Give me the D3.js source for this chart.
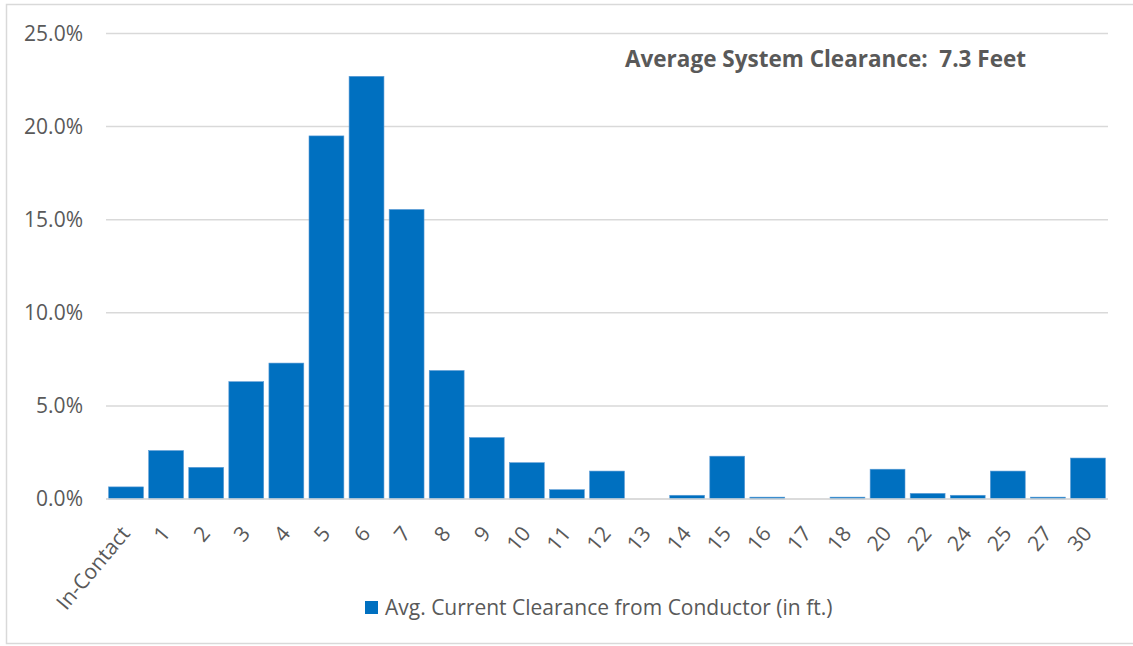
<!DOCTYPE html>
<html>
<head>
<meta charset="utf-8">
<script src="https://cdn.jsdelivr.net/npm/d3@7"></script>
<style>
  html, body { margin: 0; padding: 0; background: #fff; }
  svg { display: block; font-family: "Open Sans", sans-serif; }
</style>
</head>
<body>
<svg id="chart" width="1133" height="646"></svg>
<script>
// Clearance buckets (feet) and share of spans in each bucket (%)
const categories = ["In-Contact", "1", "2", "3", "4", "5", "6", "7", "8", "9", "10", "11", "12",
                    "13", "14", "15", "16", "17", "18", "20", "22", "24", "25", "27", "30"];
const shares = [0.65, 2.6, 1.7, 6.3, 7.3, 19.5, 22.7, 15.55, 6.9, 3.3, 1.95, 0.5, 1.5,
                0, 0.2, 2.3, 0.1, 0, 0.1, 1.6, 0.3, 0.2, 1.5, 0.1, 2.2];
const yTicks = [0, 5, 10, 15, 20, 25];
const seriesName = "Avg. Current Clearance from Conductor (in ft.)";
const annotation = "Average System Clearance:\u00a0\u00a07.3 Feet";

const svg = d3.select("#chart");
const W = 1133, H = 646;
const margin = { left: 106, right: 25, top: 33.5, bottom: 147 };
const textColor = "#595959";
const barColor = "#0070C0";
const labelSize = 21;

// outer chart frame
svg.append("rect")
  .attr("x", 6.5).attr("y", 4.5)
  .attr("width", 1140).attr("height", 639)
  .attr("fill", "none").attr("stroke", "#d9d9d9").attr("stroke-width", 1.5);

const x = d3.scaleBand()
  .domain(categories)
  .range([margin.left, W - margin.right])
  .paddingInner(0.13).paddingOuter(0.065);

const y = d3.scaleLinear()
  .domain([0, 25])
  .range([H - margin.bottom, margin.top]);

// horizontal gridlines
svg.append("g")
  .selectAll("line")
  .data(yTicks)
  .join("line")
  .attr("x1", margin.left).attr("x2", W - margin.right)
  .attr("y1", d => y(d)).attr("y2", d => y(d))
  .attr("stroke", "#d9d9d9").attr("stroke-width", 1.5);

// y axis labels
const yAxis = d3.axisLeft(y).tickValues(yTicks).tickSize(0).tickPadding(0)
  .tickFormat(d => d.toFixed(1) + "%");
svg.append("g")
  .attr("transform", `translate(83,0)`)
  .call(yAxis)
  .call(g => g.select(".domain").remove())
  .call(g => g.selectAll("text")
    .attr("fill", textColor).attr("font-size", labelSize)
    .attr("font-family", "'Open Sans', sans-serif"));

// bars
svg.append("g")
  .selectAll("rect")
  .data(categories.map((c, i) => ({ c, v: shares[i] })))
  .join("rect")
  .attr("x", d => x(d.c))
  .attr("width", x.bandwidth())
  .attr("y", d => y(d.v))
  .attr("height", d => y(0) - y(d.v))
  .attr("fill", barColor)
  .attr("stroke", d => d.v > 0 ? "#5b9bd5" : "none")
  .attr("stroke-width", 0.6);

// x axis baseline
svg.append("line")
  .attr("x1", margin.left).attr("x2", W - margin.right)
  .attr("y1", y(0)).attr("y2", y(0))
  .attr("stroke", "#d9d9d9").attr("stroke-width", 1.5);

// rotated category labels
const xAxis = d3.axisBottom(x).tickSize(0).tickPadding(0);
svg.append("g")
  .attr("transform", `translate(0,${y(0)})`)
  .call(xAxis)
  .call(g => g.select(".domain").remove())
  .call(g => g.selectAll("text")
    .attr("fill", textColor).attr("font-size", labelSize)
    .attr("font-family", "'Open Sans', sans-serif")
    .attr("text-anchor", "end")
    .attr("dy", null)
    .attr("transform", "translate(5,35) rotate(-50)"));

// legend
const legend = svg.append("g").attr("transform", "translate(365,601)");
legend.append("rect").attr("width", 13).attr("height", 13).attr("fill", barColor);
legend.append("text")
  .attr("x", 20).attr("y", 13.5)
  .attr("fill", textColor).attr("font-size", labelSize)
  .text(seriesName);

// annotation
svg.append("text")
  .attr("x", 625).attr("y", 66.5)
  .attr("fill", textColor).attr("font-size", 22.5).attr("font-weight", "bold")
  .text(annotation);
</script>
</body>
</html>
